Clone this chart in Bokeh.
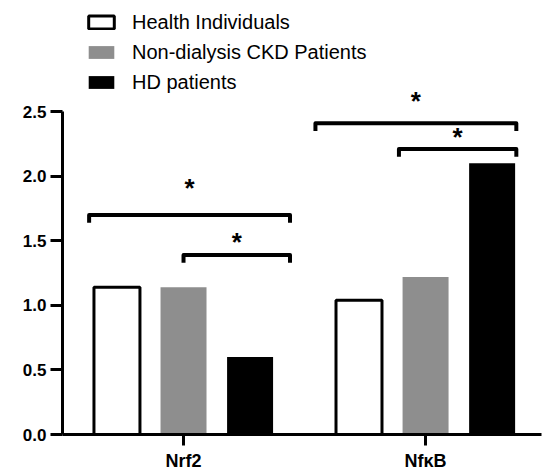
from bokeh.plotting import figure
from bokeh.models import (ColumnDataSource, Range1d, FixedTicker, Legend, LegendItem,
                          NumeralTickFormatter)
from bokeh.core.properties import value
from bokeh.embed import file_html
from bokeh.resources import INLINE

# ---- data ----
categories = ["Nrf2", "NfκB"]
series_names = ["Health Individuals", "Non-dialysis CKD Patients", "HD patients"]
health = [1.14, 1.04]
nondialysis = [1.14, 1.22]
hd = [0.60, 2.10]
y_ticks = [0.0, 0.5, 1.0, 1.5, 2.0, 2.5]

# significance brackets: (category index, start offset, end offset, bracket height, star height)
br_group = [0, 0, 1, 1]
br_start = [-0.39, 0.0, -0.455, -0.11]
br_end = [0.44, 0.44, 0.375, 0.375]
br_y = [1.70, 1.39, 2.41, 2.21]
star_y = [1.91, 1.49, 2.58, 2.30]
star_label = ["*", "*", "*", "*"]

# ---- layout constants ----
FONT = "Liberation Sans"
bar_offset = 0.275
bar_width = 0.19
drop = 0.06

centers = [i + 0.5 for i in range(len(categories))]

p = figure(width=543, height=473, output_backend="svg", toolbar_location=None,
           x_range=Range1d(0, 1.979), y_range=Range1d(0, 3.36),
           min_border_left=62, min_border_right=2, min_border_top=0, min_border_bottom=38)
p.outline_line_color = None
p.xgrid.grid_line_color = None
p.ygrid.grid_line_color = None
p.background_fill_color = "white"

colors = ["white", "#8e8e8e", "black"]
line_colors = ["black", "#8e8e8e", "black"]
line_widths = [3, 0, 0]
renderers = []
for k, vals in enumerate([health, nondialysis, hd]):
    src = ColumnDataSource(dict(x=[c + (k - 1) * bar_offset for c in centers], top=vals))
    r = p.vbar(x="x", top="top", width=bar_width, bottom=0, source=src,
               fill_color=colors[k], line_color=line_colors[k],
               line_width=line_widths[k] if line_widths[k] else 1,
               line_alpha=1 if line_widths[k] else 0)
    renderers.append(r)

# brackets
xs, ys = [], []
sx, sy = [], []
for g, a, b, yy, st in zip(br_group, br_start, br_end, br_y, star_y):
    c = centers[g]
    xs.append([c + a, c + a, c + b, c + b])
    ys.append([yy - drop, yy, yy, yy - drop])
    sx.append(c + (a + b) / 2)
    sy.append(st)
p.multi_line(xs=xs, ys=ys, line_color="black", line_width=4, line_join="round", line_cap="butt")
p.text(x=sx, y=sy, text=star_label, text_align="center", text_baseline="middle",
       text_font=value(FONT), text_font_size="26px", text_font_style="bold", text_color="black")

# axes
xa = p.xaxis[0]
xa.ticker = FixedTicker(ticks=centers)
xa.major_label_overrides = {c: n for c, n in zip(centers, categories)}
xa.major_label_text_font = FONT
xa.major_label_text_font_style = "bold"
xa.major_label_text_font_size = "18px"
xa.major_label_text_color = "black"
xa.axis_line_width = 3
xa.major_tick_line_width = 3
xa.major_tick_out = 11
xa.major_tick_in = 0
xa.minor_tick_line_color = None
xa.major_label_standoff = 5

ya = p.yaxis[0]
ya.ticker = FixedTicker(ticks=y_ticks)
ya.formatter = NumeralTickFormatter(format="0.0")
ya.bounds = (0, 2.5)
ya.major_label_text_font = FONT
ya.major_label_text_font_style = "bold"
ya.major_label_text_font_size = "17px"
ya.major_label_text_color = "black"
ya.axis_line_width = 3
ya.major_tick_line_width = 3
ya.major_tick_out = 12
ya.major_tick_in = 0
ya.minor_tick_line_color = None
ya.major_label_standoff = 4

legend = Legend(items=[LegendItem(label=n, renderers=[r]) for n, r in zip(series_names, renderers)],
                location=(23, 337), padding=0, margin=0, spacing=0,
                glyph_width=32, glyph_height=16, label_height=30, label_standoff=15,
                label_text_font=FONT, label_text_font_size="20px", label_text_color="black",
                border_line_alpha=0, background_fill_alpha=0)
p.add_layout(legend)

open("out.html", "w").write(file_html(p, INLINE))
